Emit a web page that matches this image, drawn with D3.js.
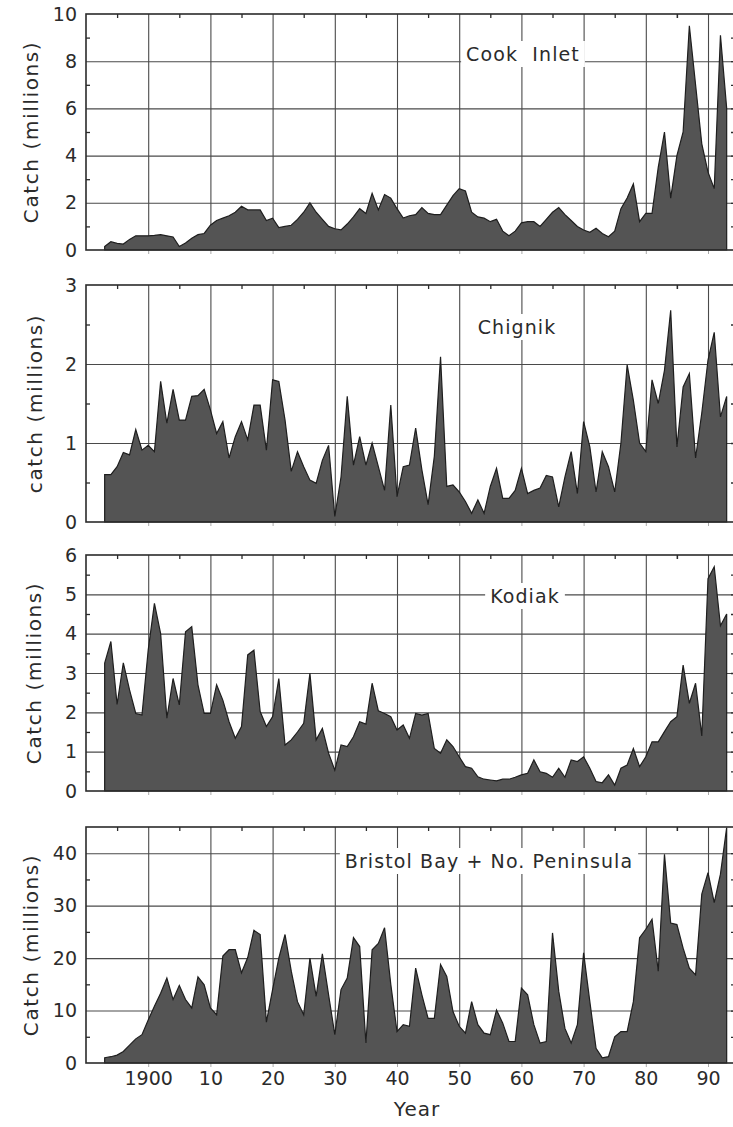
<!DOCTYPE html>
<html>
<head>
<meta charset="utf-8">
<script src="https://cdn.jsdelivr.net/npm/d3@7"></script>
<style>
  html, body { margin: 0; padding: 0; background: #fff; }
  svg { display: block; }
  text { font-family: "DejaVu Sans", Verdana, sans-serif; fill: #2b2b2b; }
</style>
</head>
<body>
<svg id="chart" width="733" height="1127"></svg>
<script>
// Annual salmon catch (millions of fish), 1893-1993
const years = d3.range(1893, 1994);

const cookInlet = [
  0.15, 0.35, 0.28, 0.25, 0.45, 0.6, 0.6, 0.6, 0.62, 0.65,
  0.6, 0.55, 0.15, 0.3, 0.5, 0.65, 0.7, 1.05, 1.25, 1.35,
  1.45, 1.6, 1.85, 1.7, 1.7, 1.7, 1.25, 1.35, 0.95, 1.0,
  1.05, 1.3, 1.6, 2.0, 1.6, 1.3, 1.0, 0.9, 0.85, 1.1,
  1.4, 1.75, 1.55, 2.4, 1.7, 2.35, 2.2, 1.75, 1.35, 1.45,
  1.5, 1.8, 1.55, 1.5, 1.5, 1.9, 2.3, 2.6, 2.5, 1.6,
  1.4, 1.35, 1.2, 1.3, 0.8, 0.6, 0.8, 1.15, 1.2, 1.2,
  1.0, 1.3, 1.6, 1.8, 1.5, 1.25, 1.0, 0.85, 0.75, 0.92,
  0.7, 0.56, 0.8, 1.75, 2.2, 2.8, 1.2, 1.55, 1.55, 3.5,
  5.0, 2.2, 4.0, 5.0, 9.5, 7.0, 4.5, 3.3, 2.6, 9.1,
  6.0
];

const chignik = [
  0.6, 0.6, 0.7, 0.88, 0.85, 1.17, 0.91, 0.97, 0.89, 1.78,
  1.25, 1.68, 1.29, 1.29, 1.59, 1.6, 1.68, 1.42, 1.12, 1.27,
  0.81, 1.08, 1.27, 1.04, 1.48, 1.48, 0.91, 1.8, 1.78, 1.29,
  0.64, 0.89, 0.7, 0.53, 0.49, 0.78, 0.97, 0.07, 0.57, 1.59,
  0.72, 1.08, 0.72, 1.0, 0.7, 0.4, 1.48, 0.32, 0.7, 0.72,
  1.19, 0.66, 0.22, 0.83, 2.09, 0.45, 0.47, 0.38, 0.26, 0.11,
  0.28, 0.11, 0.45, 0.68, 0.3, 0.3, 0.4, 0.68, 0.36, 0.4,
  0.43, 0.59, 0.57, 0.19, 0.57, 0.89, 0.36, 1.27, 0.95, 0.38,
  0.89, 0.7, 0.38, 1.0, 1.99, 1.54, 1.0, 0.89, 1.8, 1.5,
  1.92, 2.68, 0.95, 1.71, 1.88, 0.81, 1.38, 2.05, 2.4, 1.33,
  1.59
];

const kodiak = [
  3.25, 3.8, 2.2, 3.26, 2.57, 1.97, 1.93, 3.58, 4.77, 4.0,
  1.85, 2.86, 2.19, 4.05, 4.18, 2.7, 1.97, 1.97, 2.7, 2.31,
  1.76, 1.34, 1.64, 3.46, 3.58, 2.02, 1.64, 1.89, 2.86, 1.17,
  1.3, 1.5, 1.72, 2.99, 1.3, 1.59, 0.96, 0.53, 1.17, 1.13,
  1.38, 1.76, 1.7, 2.74, 2.04, 1.97, 1.89, 1.55, 1.68, 1.34,
  1.97, 1.93, 1.97, 1.08, 0.96, 1.3, 1.13, 0.87, 0.62, 0.58,
  0.36, 0.3, 0.28, 0.26, 0.3, 0.3, 0.35, 0.41, 0.45, 0.79,
  0.49, 0.45, 0.35, 0.58, 0.35, 0.79, 0.75, 0.87, 0.58, 0.24,
  0.21, 0.41, 0.15, 0.58, 0.66, 1.08, 0.62, 0.87, 1.25, 1.25,
  1.51, 1.76, 1.89, 3.2, 2.23, 2.74, 1.4, 5.4, 5.7, 4.2,
  4.5
];

const bristolBay = [
  1.0, 1.2, 1.5, 2.2, 3.4, 4.6, 5.4, 8.2, 10.8, 13.3,
  16.2, 12.1, 14.8, 12.1, 10.5, 16.4, 14.9, 10.5, 9.2, 20.4,
  21.6, 21.6, 17.2, 20.1, 25.3, 24.5, 7.8, 14.0, 20.0, 24.5,
  17.5, 11.7, 9.2, 20.0, 12.7, 20.8, 13.0, 5.4, 14.0, 16.2,
  23.9, 22.2, 3.8, 21.6, 22.8, 25.8, 15.0, 6.0, 7.3, 7.0,
  18.1, 13.0, 8.5, 8.5, 18.8, 16.5, 9.8, 7.0, 5.7, 11.7,
  7.3, 5.7, 5.4, 10.1, 7.6, 4.1, 4.1, 14.3, 13.0, 7.3,
  3.8, 4.1, 24.8, 13.7, 6.6, 3.8, 7.3, 21.0, 11.7, 2.8,
  1.0, 1.2, 5.0, 6.0, 6.0, 11.7, 23.9, 25.5, 27.4, 17.5,
  39.8, 26.7, 26.4, 21.9, 18.1, 16.8, 32.2, 36.3, 30.6, 36.0,
  44.9
];

const regionNames = ["Cook  Inlet", "Chignik", "Kodiak", "Bristol Bay + No. Peninsula"];
const axisTitles = ["Catch (millions)", "catch (millions)", "Catch (millions)", "Catch (millions)"];
const yMax = [10, 3, 6, 45];
const yMajorTicks = [[0, 2, 4, 6, 8, 10], [0, 1, 2, 3], [0, 1, 2, 3, 4, 5, 6], [0, 10, 20, 30, 40]];
const yMinorStep = [1, 0.5, 0.5, 5];
const yearTicks = [1900, 1910, 1920, 1930, 1940, 1950, 1960, 1970, 1980, 1990];
const yearTickLabels = ["1900", "10", "20", "30", "40", "50", "60", "70", "80", "90"];

const series = [cookInlet, chignik, kodiak, bristolBay];

// Layout of the four stacked panels
const layout = [
  { top: 14,  bottom: 250,  labelX: 38, titleX: 523, titleY: 61 },
  { top: 285, bottom: 522,  labelX: 42, titleX: 517, titleY: 334 },
  { top: 555, bottom: 791,  labelX: 41, titleX: 525, titleY: 603 },
  { top: 827, bottom: 1063, labelX: 38, titleX: 489, titleY: 868 }
];

const svg = d3.select("#chart");
const left = 86, right = 736;
const x = d3.scaleLinear().domain([1890, 1994.5]).range([left, right]);

const gridColor = "#4a4a4a";
const inkColor = "#2b2b2b";

series.forEach((values, i) => {
  const L = layout[i];
  const y = d3.scaleLinear().domain([0, yMax[i]]).range([L.bottom, L.top]);
  const g = svg.append("g");
  const data = years.map((yr, k) => ({ year: yr, value: values[k] }));

  // vertical grid lines at each decade
  g.append("g")
    .attr("transform", `translate(0,${L.bottom})`)
    .call(d3.axisBottom(x).tickValues(yearTicks).tickSize(-(L.bottom - L.top)).tickFormat(""))
    .call(s => s.select(".domain").remove())
    .selectAll("line").attr("stroke", gridColor).attr("stroke-width", 1.1);

  // horizontal grid lines at major values
  g.append("g")
    .attr("transform", `translate(${left},0)`)
    .call(d3.axisLeft(y).tickValues(yMajorTicks[i].filter(v => v > 0 && v < yMax[i])).tickSize(-(right - left)).tickFormat(""))
    .call(s => s.select(".domain").remove())
    .selectAll("line").attr("stroke", gridColor).attr("stroke-width", 1.1);

  // short outward ticks under the baseline
  g.append("g")
    .attr("transform", `translate(0,${L.bottom})`)
    .call(d3.axisBottom(x).tickValues(yearTicks).tickSize(4).tickFormat(""))
    .call(s => s.select(".domain").remove())
    .selectAll("line").attr("stroke", "#aaa").attr("stroke-width", 1);

  // minor ticks: top edge (5-year marks), left and right edges (half steps)
  const midYears = yearTicks.map(t => t - 5).concat([1985]).filter(t => t > 1890);
  g.append("g")
    .attr("transform", `translate(0,${L.top})`)
    .call(d3.axisBottom(x).tickValues(midYears).tickSize(4).tickFormat(""))
    .call(s => s.select(".domain").remove())
    .selectAll("line").attr("stroke", inkColor).attr("stroke-width", 1.3);

  const minorVals = d3.range(yMinorStep[i], yMax[i], yMinorStep[i])
    .filter(v => !yMajorTicks[i].some(t => Math.abs(t - v) < 1e-9));
  g.append("g")
    .attr("transform", `translate(${left},0)`)
    .call(d3.axisRight(y).tickValues(minorVals).tickSize(4).tickFormat(""))
    .call(s => s.select(".domain").remove())
    .selectAll("line").attr("stroke", inkColor).attr("stroke-width", 1.3);
  g.append("g")
    .attr("transform", `translate(${right},0)`)
    .call(d3.axisLeft(y).tickValues(d3.range(yMinorStep[i], yMax[i], yMinorStep[i])).tickSize(5).tickFormat(""))
    .call(s => s.select(".domain").remove())
    .selectAll("line").attr("stroke", inkColor).attr("stroke-width", 1.3);

  // region title on a white box
  const title = g.append("text")
    .attr("x", L.titleX)
    .attr("y", L.titleY)
    .attr("text-anchor", "middle")
    .style("font-size", "19px")
    .style("letter-spacing", "1.1px")
    .style("white-space", "pre")
    .text(regionNames[i]);
  const bb = title.node().getBBox();
  g.insert("rect", () => title.node())
    .attr("x", bb.x - 5).attr("y", bb.y - 2)
    .attr("width", bb.width + 10).attr("height", bb.height + 4)
    .attr("fill", "#fff");

  // catch area
  const area = d3.area()
    .x(d => x(d.year))
    .y0(y(0))
    .y1(d => y(d.value));
  g.append("path")
    .datum(data)
    .attr("d", area)
    .attr("fill", "#545454")
    .attr("stroke", "#1e1e1e")
    .attr("stroke-width", 1.2)
    .attr("stroke-linejoin", "miter");

  // frame
  g.append("rect")
    .attr("x", left).attr("y", L.top)
    .attr("width", right - left).attr("height", L.bottom - L.top)
    .attr("fill", "none")
    .attr("stroke", inkColor)
    .attr("stroke-width", 1.6);

  // y tick labels
  g.append("g")
    .attr("transform", `translate(${left},0)`)
    .call(d3.axisLeft(y).tickValues(yMajorTicks[i]).tickSize(0).tickPadding(9).tickFormat(d3.format("d")))
    .call(s => s.select(".domain").remove())
    .selectAll("text")
    .style("font-size", "19px")
    .style("font-family", "\"DejaVu Sans\", Verdana, sans-serif")
    .attr("fill", inkColor);

  // y axis title
  g.append("text")
    .attr("transform", `translate(${L.labelX},${(L.top + L.bottom) / 2}) rotate(-90)`)
    .attr("text-anchor", "middle")
    .style("font-size", "20px")
    .style("letter-spacing", "1.6px")
    .text(axisTitles[i]);

  // year labels under the bottom panel
  if (i === series.length - 1) {
    const xa = g.append("g")
      .attr("transform", `translate(0,${L.bottom})`)
      .call(d3.axisBottom(x).tickValues(yearTicks).tickSize(0).tickPadding(9)
        .tickFormat((d, k) => yearTickLabels[k]))
      .call(s => s.select(".domain").remove());
    xa.selectAll("text")
      .style("font-size", "19px")
      .style("font-family", "\"DejaVu Sans\", Verdana, sans-serif")
      .attr("fill", inkColor);

    g.append("text")
      .attr("x", 417)
      .attr("y", 1116)
      .attr("text-anchor", "middle")
      .style("font-size", "20px")
      .style("letter-spacing", "1px")
      .text("Year");
  }
});
</script>
</body>
</html>
